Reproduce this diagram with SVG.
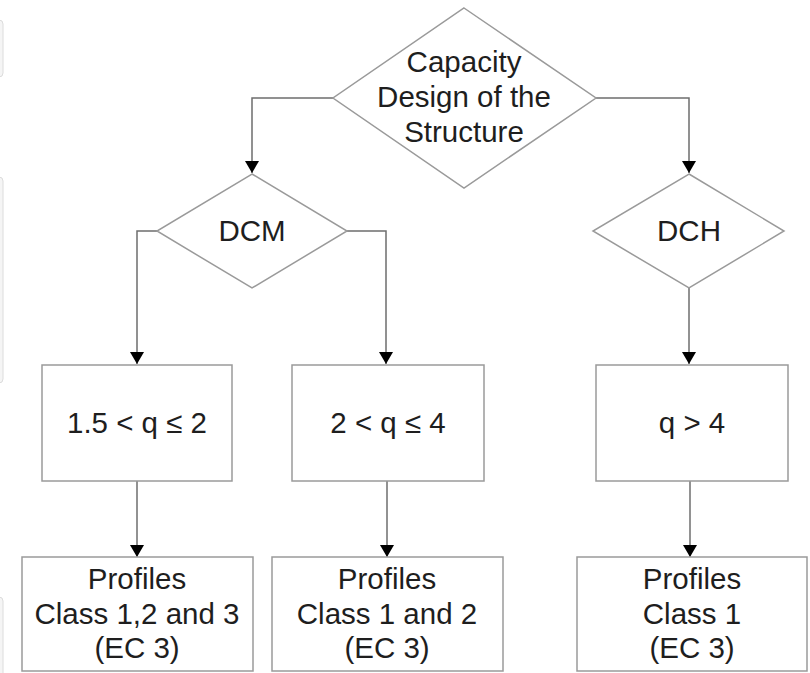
<svg xmlns="http://www.w3.org/2000/svg" width="810" height="673" viewBox="0 0 810 673">
  <defs>
    <style>
      .shape { fill: #ffffff; stroke: #9a9a9a; stroke-width: 1.5; }
      .edge { fill: none; stroke: #6e6e6e; stroke-width: 1.5; }
      .lbl { font-family: "Liberation Sans", Arial, sans-serif; font-size: 29.5px; fill: #1e1e1e; text-anchor: middle; }
      .edgebar { fill: #f5f5f5; stroke: #dcdcdc; stroke-width: 1; }
    </style>
    <marker id="arr" viewBox="0 0 12 14" refX="12" refY="7" markerWidth="12" markerHeight="14" markerUnits="userSpaceOnUse" orient="auto">
      <path d="M0,0 L12,7 L0,14 Z" fill="#000000"/>
    </marker>
  </defs>
  <rect width="810" height="673" fill="#ffffff"/>
  <g id="edge-bars">
    <rect class="edgebar" x="-10" y="20" width="13" height="57" rx="4"/>
    <rect class="edgebar" x="-10" y="177" width="13" height="206" rx="4"/>
    <rect class="edgebar" x="-10" y="597" width="13" height="90" rx="4"/>
  </g>
  <g id="connectors">
    <path class="edge" d="M333,98 H252 V173" marker-end="url(#arr)"/>
    <path class="edge" d="M596,98 H689 V173" marker-end="url(#arr)"/>
    <path class="edge" d="M157,231 H137 V364" marker-end="url(#arr)"/>
    <path class="edge" d="M347,231 H386 V364" marker-end="url(#arr)"/>
    <path class="edge" d="M689,288 V364" marker-end="url(#arr)"/>
    <path class="edge" d="M137,481 V557" marker-end="url(#arr)"/>
    <path class="edge" d="M387,481 V557" marker-end="url(#arr)"/>
    <path class="edge" d="M690,481 V557" marker-end="url(#arr)"/>
  </g>
  <g id="capacity">
    <polygon class="shape" points="464,8 596,98 464,188 333,98"/>
    <text class="lbl" x="464" y="72">Capacity</text>
    <text class="lbl" x="464" y="107">Design of the</text>
    <text class="lbl" x="464" y="142">Structure</text>
  </g>
  <g id="dcm">
    <polygon class="shape" points="252,174 347,231 252,288 157,231"/>
    <text class="lbl" x="252" y="241">DCM</text>
  </g>
  <g id="dch">
    <polygon class="shape" points="689,174 784,231 689,288 593,231"/>
    <text class="lbl" x="689" y="241">DCH</text>
  </g>
  <g id="q1">
    <rect class="shape" x="42" y="365" width="190" height="116"/>
    <text class="lbl" x="137" y="433">1.5 &lt; q ≤ 2</text>
  </g>
  <g id="q2">
    <rect class="shape" x="292" y="365" width="192" height="116"/>
    <text class="lbl" x="388" y="433">2 &lt; q ≤ 4</text>
  </g>
  <g id="q3">
    <rect class="shape" x="596" y="365" width="192" height="116"/>
    <text class="lbl" x="692" y="433">q &gt; 4</text>
  </g>
  <g id="p1">
    <rect class="shape" x="22" y="557" width="231" height="114"/>
    <text class="lbl" x="137" y="589">Profiles</text>
    <text class="lbl" x="137" y="624">Class 1,2 and 3</text>
    <text class="lbl" x="137" y="658">(EC 3)</text>
  </g>
  <g id="p2">
    <rect class="shape" x="272" y="557" width="231" height="114"/>
    <text class="lbl" x="387" y="589">Profiles</text>
    <text class="lbl" x="387" y="624">Class 1 and 2</text>
    <text class="lbl" x="387" y="658">(EC 3)</text>
  </g>
  <g id="p3">
    <rect class="shape" x="577" y="557" width="230" height="114"/>
    <text class="lbl" x="692" y="589">Profiles</text>
    <text class="lbl" x="692" y="624">Class 1</text>
    <text class="lbl" x="692" y="658">(EC 3)</text>
  </g>
</svg>
